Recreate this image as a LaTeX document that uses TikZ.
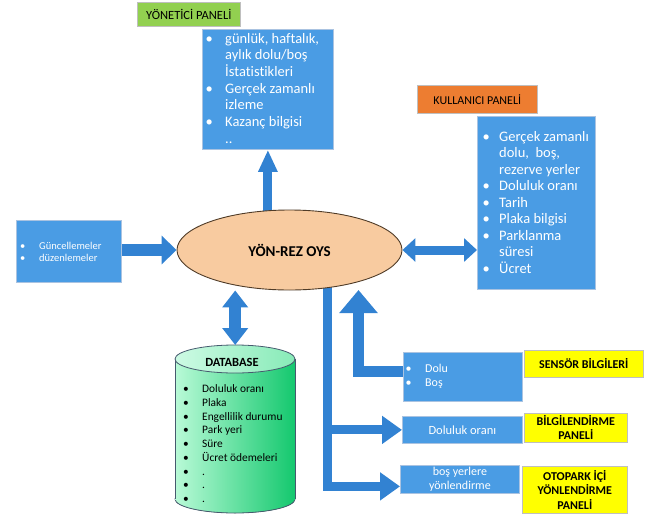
\documentclass[tikz,border=0pt]{standalone}
\usepackage{fontspec}
\setmainfont[Ligatures=NoCommon]{Carlito}
\usetikzlibrary{shapes.geometric,arrows.meta,backgrounds}

\definecolor{cbox}{RGB}{74,156,228}
\definecolor{carrow}{RGB}{50,130,210}
\definecolor{cedge}{RGB}{170,195,225}
\definecolor{cpeach}{RGB}{248,203,160}
\definecolor{cbrown}{RGB}{80,60,40}
\definecolor{cgreen}{RGB}{146,208,80}
\definecolor{corange}{RGB}{237,125,49}
\definecolor{cyellow}{RGB}{255,255,0}
\definecolor{cmint}{RGB}{185,250,215}
\definecolor{ccap}{RGB}{205,250,228}
\definecolor{cdeep}{RGB}{20,200,110}
\definecolor{cdbline}{RGB}{70,90,110}

\begin{document}
\begin{tikzpicture}[x=1pt,y=-1pt,
        box/.style={draw=cedge,line width=0.8pt,fill=cbox,inner sep=0pt,anchor=north west},
        tag/.style={draw=black!25,line width=0.6pt,inner sep=0pt,anchor=north west,align=center},
        lst/.style={inner sep=0pt,anchor=base west,text=white},
        dbitem/.style={inner sep=0pt,anchor=base west,font=\fontsize{11.4}{13.75}\selectfont},
        blk/.style={draw=carrow,line width=#1,line join=miter}]
      \useasboundingbox (0,0) rectangle (651,517);

      % admin panel
      \node[tag,fill=cgreen,minimum width=103pt,minimum height=24pt,font=\fontsize{12.5}{15}\selectfont] (yon) at (137,2) {YÖNETİCİ PANELİ};
      \node[box,minimum width=131pt,minimum height=120pt] (admin) at (202,29) {};
      \node[lst,font=\fontsize{14.5}{16.7}\selectfont] (admintxt) at (205.5,43) {\begin{tabular}[t]{@{}p{19.5pt}@{}l@{}}
        \textbullet & günlük, haftalık,\\
                    & aylık dolu/boş\\
                    & İstatistikleri\\
        \textbullet & Gerçek zamanlı\\
                    & izleme\\
        \textbullet & Kazanç bilgisi\\
                    & ..
      \end{tabular}};

      % user panel
      \node[tag,fill=corange,minimum width=120pt,minimum height=28pt,font=\fontsize{12}{14}\selectfont] (kul) at (417,85) {KULLANICI PANELİ};
      \node[box,minimum width=118pt,minimum height=173pt] (user) at (477,116) {};
      \node[lst,font=\fontsize{14.5}{16.5}\selectfont] (usertxt) at (482.5,141) {\begin{tabular}[t]{@{}p{16.5pt}@{}l@{}}
        \textbullet & Gerçek zamanlı\\
                    & dolu,\ \ boş,\\
                    & rezerve yerler\\
        \textbullet & Doluluk oranı\\
        \textbullet & Tarih\\
        \textbullet & Plaka bilgisi\\
        \textbullet & Parklanma\\
                    & süresi\\
        \textbullet & Ücret
      \end{tabular}};

      % updates
      \node[box,minimum width=105pt,minimum height=62pt] (lbox) at (16,220) {};
      \node[lst,font=\fontsize{10.5}{11.5}\selectfont] (lboxtxt) at (20,249.5) {\begin{tabular}[t]{@{}p{19pt}@{}l@{}}
        \textbullet & Güncellemeler\\
        \textbullet & düzenlemeler
      \end{tabular}};

      % system
      \node[ellipse,draw=cbrown,line width=0.9pt,fill=cpeach,minimum width=225pt,minimum height=80pt,inner sep=0pt,
            font=\bfseries\fontsize{15}{18}\selectfont] (oys) at (289.5,250) {YÖN-REZ OYS};

      % database
      \node[inner sep=0pt,minimum width=120pt,minimum height=168pt,anchor=north west] (db) at (175,345) {};
      \fill[left color=cmint,right color=cdeep] (235,499) ellipse [x radius=60pt,y radius=14pt];
      \draw[cdbline,line width=0.8pt] (235,499) ellipse [x radius=60pt,y radius=14pt];
      \shade[left color=cmint,right color=cdeep] (175,359) rectangle (295,499);
      \draw[cdbline,line width=0.8pt] (175,359) -- (175,499) (295,359) -- (295,499);
      \shade[left color=ccap,right color=cmint!70!cdeep,draw=cdbline,line width=0.8pt] (235,359) ellipse [x radius=60pt,y radius=14pt];
      \node[inner sep=0pt,font=\bfseries\fontsize{12.5}{15}\selectfont] (dbhead) at (232,362) {DATABASE};
      \foreach \t [count=\i from 0] in {Doluluk oranı, Plaka, Engellilik durumu, Park yeri, Süre, Ücret ödemeleri, ., ., .} {
        \node[dbitem] (dbb\i) at (183,{392.5+13.75*\i}) {\textbullet};
        \node[dbitem] (dbt\i) at (202,{392.5+13.75*\i}) {\t};
      }

      % sensors and panels
      \node[box,minimum width=119pt,minimum height=49pt] (dolu) at (403,352) {};
      \node[lst,font=\fontsize{12}{14}\selectfont] (dolutxt) at (405.5,372.5) {\begin{tabular}[t]{@{}p{19.5pt}@{}l@{}}
        \textbullet & Dolu\\
        \textbullet & Boş
      \end{tabular}};
      \node[tag,fill=cyellow,minimum width=119pt,minimum height=27pt,font=\bfseries\fontsize{12}{14}\selectfont] (sens) at (524,350) {SENSÖR BİLGİLERİ};
      \node[box,minimum width=120pt,minimum height=27pt,text=white,font=\fontsize{12.5}{14}\selectfont] (oran) at (402,416) {Doluluk oranı};
      \node[tag,fill=cyellow,minimum width=103pt,minimum height=29pt,font=\bfseries\fontsize{12}{14}\selectfont] (bilg) at (524,413) {BİLGİLENDİRME\\PANELİ};
      \node[box,minimum width=119pt,minimum height=28pt,text=white,align=center,font=\fontsize{12}{14}\selectfont] (bos) at (400,465) {boş yerlere\\yönlendirme};
      \node[tag,fill=cyellow,minimum width=105pt,minimum height=47pt,font=\bfseries\fontsize{12}{14.5}\selectfont] (otop) at (522,466) {OTOPARK İÇİ\\YÖNLENDİRME\\PANELİ};

      \coordinate (stip) at (358.5,290);

      % arrows
      \begin{scope}[on background layer]
        \draw[blk=9pt,-{Triangle[length=22pt,width=18pt]}] (oys.center -| admin.south) -- (admin.south);
        \draw[blk=9pt,-{Triangle[length=20pt,width=27pt]}] ([xshift=38pt]oys.center) |- ([yshift=-7pt]bos.west);
        \draw[blk=9pt,-{Triangle[length=20pt,width=27pt]}] ([xshift=38pt]oys.center |- oran.west) -- (oran.west);
      \end{scope}
      \draw[blk=12pt,-{Triangle[length=15pt,width=28pt]}] (lbox.east |- oys.west) -- (oys.west);
      \draw[blk=9pt,{Triangle[length=13pt,width=23pt]}-{Triangle[length=13pt,width=23pt]}] (oys.east) -- (oys.east -| user.west);
      \draw[blk=12pt,{Triangle[length=17pt,width=25pt]}-{Triangle[length=17pt,width=25pt]}] (oys.south -| db.north) -- (db.north);
      \draw[blk=11pt,-{Triangle[length=23pt,width=37pt]}] ([yshift=5pt]dolu.west) -| (stip);
    \end{tikzpicture}
\end{document}
